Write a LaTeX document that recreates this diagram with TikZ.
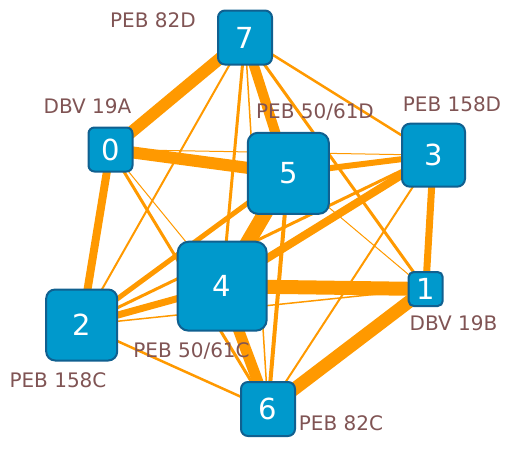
\documentclass[tikz,border=0pt]{standalone}
\usepackage{fontspec}
\setmainfont{DejaVu Sans}
\usetikzlibrary{backgrounds}
\definecolor{edgeor}{RGB}{255,153,0}
\definecolor{nodefill}{RGB}{0,153,204}
\definecolor{nodeborder}{RGB}{16,96,144}
\definecolor{labcol}{RGB}{128,84,84}
\tikzset{
  vbox/.style={draw=nodeborder, fill=nodefill, line width=2pt, text=white, inner sep=0pt,
    font=\fontsize{29}{29}\selectfont},
  lab/.style={text=labcol, font=\fontsize{20}{20}\selectfont, inner sep=0pt},
  ew/.style={draw=edgeor, line width=#1}
}
\begin{document}
\begin{tikzpicture}[x=1pt,y=-1pt]
\useasboundingbox (0,0) rectangle (512,456);
% nodes
\node[vbox, minimum size=54pt, rounded corners=7pt] (n7) at (245,37.5) {7};
\node[vbox, minimum size=44pt, rounded corners=6pt] (n0) at (110.5,149.5) {0};
\node[vbox, minimum size=81pt, rounded corners=10pt] (n5) at (288.3,173.3) {5};
\node[vbox, minimum size=63pt, rounded corners=8pt] (n3) at (433.5,155.2) {3};
\node[vbox, minimum size=89pt, rounded corners=11pt] (n4) at (222.2,286.2) {4};
\node[vbox, minimum size=34pt, rounded corners=5pt] (n1) at (425.7,289) {1};
\node[vbox, minimum size=71pt, rounded corners=9pt] (n2) at (81.7,325) {2};
\node[vbox, minimum size=54pt, rounded corners=7pt] (n6) at (268,409) {6};
% edges
\begin{scope}[on background layer]
\draw[ew=15pt] (n4.center) -- (n5.center);
\draw[ew=14pt] (n4.center) -- (n1.center);
\draw[ew=13pt] (n6.center) -- (n1.center);
\draw[ew=12pt] (n0.center) -- (n5.center);
\draw[ew=12pt] (n0.center) -- (n7.center);
\draw[ew=11pt] (n4.center) -- (n6.center);
\draw[ew=10pt] (n5.center) -- (n7.center);
\draw[ew=8pt] (n0.center) -- (n2.center);
\draw[ew=8pt] (n3.center) -- (n4.center);
\draw[ew=7pt] (n1.center) -- (n3.center);
\draw[ew=7pt] (n2.center) -- (n4.center);
\draw[ew=6pt] (n3.center) -- (n5.center);
\draw[ew=5pt] (n2.center) -- (n5.center);
\draw[ew=4pt] (n5.center) -- (n6.center);
\draw[ew=3pt] (n0.center) -- (n6.center);
\draw[ew=3pt] (n2.center) -- (n3.center);
\draw[ew=3pt] (n7.center) -- (n1.center);
\draw[ew=3pt] (n7.center) -- (n4.center);
\draw[ew=2.5pt] (n7.center) -- (n3.center);
\draw[ew=2.5pt] (n2.center) -- (n6.center);
\draw[ew=2pt] (n7.center) -- (n2.center);
\draw[ew=2pt] (n3.center) -- (n6.center);
\draw[ew=1.5pt] (n7.center) -- (n6.center);
\draw[ew=1.5pt] (n2.center) -- (n1.center);
\draw[ew=1pt] (n0.center) -- (n4.center);
\draw[ew=1pt] (n0.center) -- (n3.center);
\draw[ew=1pt] (n5.center) -- (n1.center);
\end{scope}
% labels
\node[lab] (l7) at (153,20.5) {PEB 82D};
\node[lab] (l0) at (87.5,106) {DBV 19A};
\node[lab] (l5) at (315,112.5) {PEB 50/61D};
\node[lab] (l3) at (452,104.5) {PEB 158D};
\node[lab] (l1) at (453.5,323) {DBV 19B};
\node[lab] (l2) at (58,380.5) {PEB 158C};
\node[lab] (l4) at (191.5,350.5) {PEB 50/61C};
\node[lab] (l6) at (341,423.5) {PEB 82C};
\end{tikzpicture}
\end{document}
